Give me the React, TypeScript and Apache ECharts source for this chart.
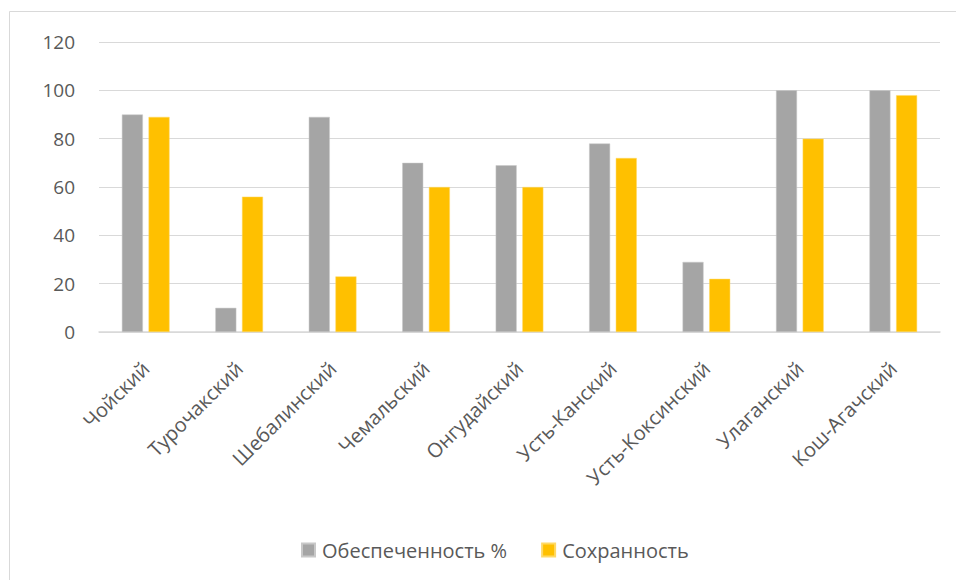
import React, { useEffect, useRef } from "react";
import * as echarts from "echarts";

const categories = [
  "Чойский",
  "Турочакский",
  "Шебалинский",
  "Чемальский",
  "Онгудайский",
  "Усть-Канский",
  "Усть-Коксинский",
  "Улаганский",
  "Кош-Агачский",
];
const provision = [90, 10, 89, 70, 69, 78, 29, 100, 100];
const preservation = [89, 56, 23, 60, 60, 72, 22, 80, 98];
const seriesNames = ["Обеспеченность %", "Сохранность"];

const FONT = "'Open Sans', sans-serif";

export default function App() {
  const ref = useRef<HTMLDivElement>(null);
  useEffect(() => {
    document.body.style.margin = "0";
    const chart = echarts.init(ref.current!, undefined, { renderer: "svg" });
    chart.setOption({
      animation: false,
      backgroundColor: "#ffffff",
      textStyle: { fontFamily: FONT },
      graphic: [
        {
          type: "rect",
          shape: { x: 9.5, y: 11.5, width: 1000, height: 700 },
          style: { fill: "none", stroke: "#d9d9d9", lineWidth: 1 },
          silent: true,
          z: -1,
        },
      ],
      grid: { left: 99, right: 16, top: 42, bottom: 248, containLabel: false },
      legend: {
        top: 535,
        left: 296,
        itemWidth: 13,
        itemHeight: 13,
        itemGap: 34,
        icon: "rect",
        textStyle: { color: "#595959", fontSize: 20, fontFamily: FONT, padding: [0, 0, 0, 2] },
        data: seriesNames,
      },
      xAxis: {
        type: "category",
        data: categories,
        axisLine: { lineStyle: { color: "#d9d9d9", width: 1.5 } },
        axisTick: { show: false },
        axisLabel: {
          rotate: 45,
          color: "#595959",
          fontSize: 20,
          fontFamily: FONT,
          margin: 33,
          interval: 0,
        },
      },
      yAxis: {
        type: "value",
        min: 0,
        max: 120,
        interval: 20,
        axisLine: { show: false },
        axisTick: { show: false },
        axisLabel: { color: "#595959", fontSize: 19, fontFamily: FONT, margin: 24 },
        splitLine: { lineStyle: { color: "#d9d9d9", width: 1 } },
      },
      series: [
        {
          name: seriesNames[0],
          type: "bar",
          data: provision,
          barGap: "27%",
          barCategoryGap: "49%",
          itemStyle: { color: "#a5a5a5", borderColor: "#c8c8c8", borderWidth: 0.5 },
        },
        {
          name: seriesNames[1],
          type: "bar",
          data: preservation,
          itemStyle: { color: "#ffc000", borderColor: "#ffd966", borderWidth: 0.5 },
        },
      ],
    });
    return () => chart.dispose();
  }, []);
  return <div ref={ref} style={{ width: 956, height: 580 }} />;
}
